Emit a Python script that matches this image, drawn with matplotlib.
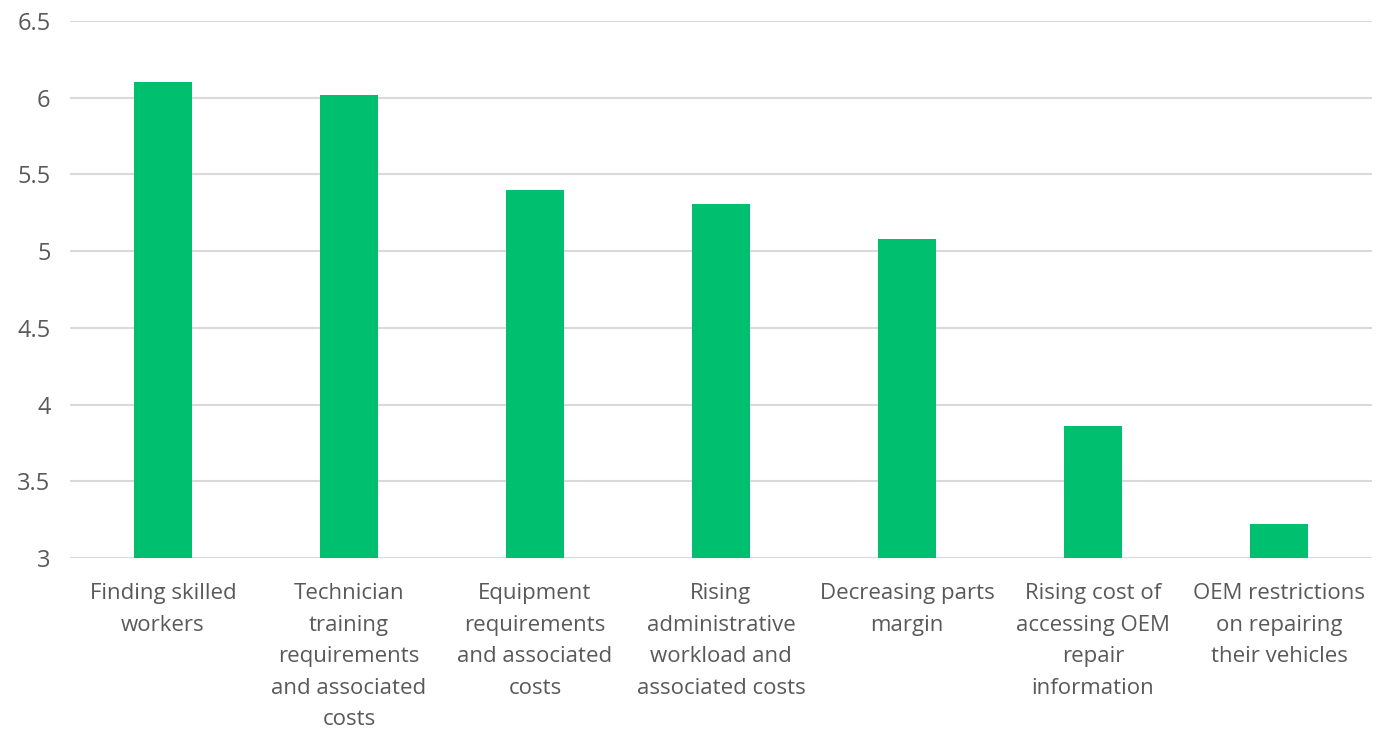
import matplotlib.pyplot as plt

# Categories (wrapped like the original) and values
categories = [
    "Finding skilled\nworkers",
    "Technician\ntraining\nrequirements\nand associated\ncosts",
    "Equipment\nrequirements\nand associated\ncosts",
    "Rising\nadministrative\nworkload and\nassociated costs",
    "Decreasing parts\nmargin",
    "Rising cost of\naccessing OEM\nrepair\ninformation",
    "OEM restrictions\non repairing\ntheir vehicles",
]
values = [6.10, 6.02, 5.40, 5.31, 5.08, 3.86, 3.22]
yticks = [3, 3.5, 4, 4.5, 5, 5.5, 6, 6.5]
ytick_labels = ["3", "3.5", "4", "4.5", "5", "5.5", "6", "6.5"]

plt.rcParams['font.family'] = ['Open Sans', 'DejaVu Sans']

fig = plt.figure(figsize=(13.76, 7.32), dpi=100)
ax = fig.add_axes([70/1376, 1 - 558/732, 1302/1376, (558-21)/732])

x = range(len(categories))
ax.bar(x, values, width=0.31, color="#00BF6F", zorder=3)

ax.set_ylim(3, 6.5)
ax.set_xlim(-0.5, len(categories) - 0.5)
ax.set_yticks(yticks)
ax.set_yticklabels(ytick_labels)
ax.set_xticks(list(x))
ax.set_xticklabels(categories, linespacing=1.66)

ax.grid(axis="y", color="#D9D9D9", linewidth=1.5, zorder=0)
for s in ax.spines.values():
    s.set_visible(False)
ax.tick_params(axis="both", length=0, labelsize=16, colors="#595959")
ax.tick_params(axis="x", pad=18)
ax.tick_params(axis="y", labelsize=17, pad=14)

fig.savefig("out.png", dpi=100)
